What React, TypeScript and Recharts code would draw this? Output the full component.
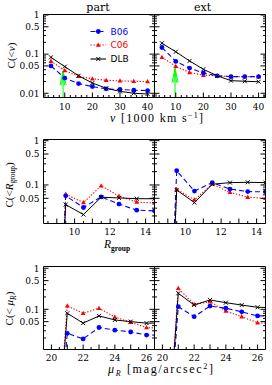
import React from 'react';
import { LineChart, Line, XAxis, YAxis, ReferenceLine } from 'recharts';

// ---------- data ----------
const vBins = [5, 10, 15, 20, 25, 30, 35, 40];
const partB06v = [0.050, 0.0245, 0.0177, 0.0148, 0.013, 0.0125, 0.012, 0.0117];
const partC06v = [0.066, 0.038, 0.027, 0.0235, 0.0215, 0.0207, 0.0203, 0.0199];
const partDLBv = [0.083, 0.048, 0.028, 0.0183, 0.0134, 0.0112, 0.0100, 0.0096];
const extB06v = [0.148, 0.065, 0.044, 0.033, 0.028, 0.0267, 0.0267, 0.0267];
const extC06v = [0.083, 0.049, 0.034, 0.029, 0.028, 0.0265, 0.0265, 0.0265];
const extDLBv = [0.19, 0.115, 0.067, 0.041, 0.028, 0.021, 0.0203, 0.0197];

// empty bins (C = 0) sit far below the log axis
const EMPTY_R = 1e-10;
const EMPTY_MU = 1e-6;

const rBins = [8.5, 9.5, 10.5, 11.5, 12.5, 13.5, 14.5];
const partB06r = [EMPTY_R, 0.057, 0.031, 0.054, 0.037, 0.027, 0.026];
const partC06r = [EMPTY_R, 0.062, 0.040, 0.096, 0.056, 0.041, 0.039];
const partDLBr = [EMPTY_R, 0.036, 0.0215, 0.053, 0.051, 0.049, 0.049];
const extB06r = [EMPTY_R, 0.21, 0.073, 0.113, 0.081, 0.071, 0.070];
const extC06r = [EMPTY_R, 0.080, 0.046, 0.105, 0.068, 0.053, 0.050];
const extDLBr = [EMPTY_R, 0.077, 0.040, 0.104, 0.113, 0.115, 0.113];

const muBins = [20, 21, 22, 23, 24, 25, 26, 27];
const partB06m = [EMPTY_MU, 0.026, 0.019, 0.036, 0.031, 0.028, 0.0235, 0.0235];
const partC06m = [EMPTY_MU, 0.122, 0.080, 0.106, 0.065, 0.048, 0.036, 0.034];
const partDLBm = [EMPTY_MU, 0.080, 0.046, 0.069, 0.055, 0.050, 0.046, 0.046];
const extB06m = [EMPTY_MU, 0.116, 0.066, 0.12, 0.106, 0.087, 0.069, 0.069];
const extC06m = [EMPTY_MU, 0.325, 0.132, 0.153, 0.091, 0.066, 0.047, 0.045];
const extDLBm = [EMPTY_MU, 0.246, 0.127, 0.169, 0.145, 0.127, 0.112, 0.110];

// arrows (x position, tip value)
const arrowPart = { x: 9.4, tip: 0.037 };
const arrowExt = { x: 9.75, tip: 0.043 };

// ticks
const vTicks = [4, 6, 8, 10, 12, 14, 16, 18, 20, 22, 24, 26, 28, 30, 32, 34, 36, 38, 40, 42];
const vMajors = [10, 20, 30, 40];
const rTicks = [8.5, 9, 9.5, 10, 10.5, 11, 11.5, 12, 12.5, 13, 13.5, 14, 14.5];
const rMajors = [9, 10, 11, 12, 13, 14];
const rLabels = [10, 12, 14];
const muTicks = [20, 20.5, 21, 21.5, 22, 22.5, 23, 23.5, 24, 24.5, 25, 25.5, 26];
const muMajors = [20, 21, 22, 23, 24, 25, 26];
const muLabels = [20, 22, 24, 26];
const yTicksTop = [0.008, 0.009, 0.01, 0.02, 0.03, 0.04, 0.05, 0.06, 0.07, 0.08, 0.09, 0.1, 0.2, 0.3, 0.4, 0.5, 0.6, 0.7, 0.8, 0.9, 1];
const yTicksLow = [0.02, 0.03, 0.04, 0.05, 0.06, 0.07, 0.08, 0.09, 0.1, 0.2, 0.3, 0.4, 0.5, 0.6, 0.7, 0.8, 0.9, 1];
const yMajors = [0.01, 0.05, 0.1, 0.5, 1];
const yLabelsTop = [0.01, 0.05, 0.1, 0.5, 1];
const yLabelsLow = [0.05, 0.1, 0.5, 1];

const legendNames = ['B06', 'C06', 'DLB'];

// ---------- styles ----------
const BLUE = '#0000ff';
const RED = '#ff0000';
const BLACK = '#000000';
const GREEN = '#00ff00';
const TICKFONT = '"DejaVu Serif", serif';
const LABELFONT = '"Liberation Serif", "Times New Roman", serif';
const SANS = '"DejaVu Sans", sans-serif';

type Pt = { x: number; y: number };
const zip = (xs: number[], ys: number[]): Pt[] => xs.map((x, i) => ({ x, y: ys[i] }));
const has = (arr: number[] | null, v: number) => !!arr && arr.some((m) => Math.abs(m - v) < 1e-9);

const BlueDot = (p: any) =>
  p.cx == null || p.cy == null || !isFinite(p.cy) ? (
    <g key={`b${p.index}`} />
  ) : (
    <circle key={`b${p.index}`} cx={p.cx} cy={p.cy} r={2.4} fill={BLUE} stroke="none" />
  );
const RedDot = (p: any) =>
  p.cx == null || p.cy == null || !isFinite(p.cy) ? (
    <g key={`r${p.index}`} />
  ) : (
    <polygon
      key={`r${p.index}`}
      points={`${p.cx},${p.cy - 2.6} ${p.cx - 2.4},${p.cy + 1.7} ${p.cx + 2.4},${p.cy + 1.7}`}
      fill={RED}
      stroke="none"
    />
  );
const CrossDot = (p: any) =>
  p.cx == null || p.cy == null || !isFinite(p.cy) ? (
    <g key={`k${p.index}`} />
  ) : (
    <path
      key={`k${p.index}`}
      d={`M${p.cx - 2},${p.cy - 2}L${p.cx + 2},${p.cy + 2}M${p.cx - 2},${p.cy + 2}L${p.cx + 2},${p.cy - 2}`}
      stroke={BLACK}
      strokeWidth={1}
      fill="none"
    />
  );

function makeTick(side: string, majors: number[], labels: number[] | null, labelDy = 12) {
  return (props: any) => {
    const { x, y, payload } = props;
    const v = payload.value;
    const len = has(majors, v) ? 5 : 2.5;
    const lab = has(labels, v);
    const txt = String(v);
    if (side === 'bottom') {
      return (
        <g>
          <line x1={x} y1={y} x2={x} y2={y - len} stroke={BLACK} strokeWidth={1} />
          {lab && (
            <text x={x} y={y + labelDy} textAnchor="middle" fontFamily={TICKFONT} fontSize={9} fill={BLACK}>
              {txt}
            </text>
          )}
        </g>
      );
    }
    if (side === 'top') {
      return <line x1={x} y1={y} x2={x} y2={y + len} stroke={BLACK} strokeWidth={1} />;
    }
    if (side === 'left') {
      return (
        <g>
          <line x1={x} y1={y} x2={x + len} y2={y} stroke={BLACK} strokeWidth={1} />
          {lab && (
            <text x={x - 4} y={y + 3.3} textAnchor="end" fontFamily={TICKFONT} fontSize={9} fill={BLACK}>
              {txt}
            </text>
          )}
        </g>
      );
    }
    return <line x1={x} y1={y} x2={x - len} y2={y} stroke={BLACK} strokeWidth={1} />;
  };
}

type Series = { data: Pt[]; kind: 'B06' | 'C06' | 'DLB' };

type PanelProps = {
  left: number;
  top: number;
  width: number;
  height: number;
  margin: { top: number; right: number; bottom: number; left: number };
  labelDy: number;
  xDomain: [number, number];
  xTicks: number[];
  xMajors: number[];
  xLabels: number[];
  yDomain: [number, number];
  yTicks: number[];
  yLabels: number[] | null;
  series: Series[];
  arrow?: { x: number; tip: number };
};

function Panel(p: PanelProps) {
  const lineFor = (s: Series, i: number) => {
    if (s.kind === 'B06')
      return (
        <Line key={`s${i}`} xAxisId="b" yAxisId="l" data={s.data} dataKey="y" type="linear"
          stroke={BLUE} strokeWidth={1.1} strokeDasharray="5 3" dot={BlueDot} activeDot={false}
          isAnimationActive={false} />
      );
    if (s.kind === 'C06')
      return (
        <Line key={`s${i}`} xAxisId="b" yAxisId="l" data={s.data} dataKey="y" type="linear"
          stroke={RED} strokeWidth={1.1} strokeDasharray="1.3 1.7" dot={RedDot} activeDot={false}
          isAnimationActive={false} />
      );
    return (
      <Line key={`s${i}`} xAxisId="b" yAxisId="l" data={s.data} dataKey="y" type="linear"
        stroke={BLACK} strokeWidth={1} dot={CrossDot} activeDot={false} isAnimationActive={false} />
    );
  };
  const arrowEls: any[] = [];
  if (p.arrow) {
    const a = p.arrow;
    const base = p.yDomain[0];
    const headLow = a.tip / 2.3;
    const seg = (k: string, x0: number, y0: number) => (
      <ReferenceLine key={k} xAxisId="b" yAxisId="l" ifOverflow="visible" stroke={GREEN} strokeWidth={1}
        segment={[{ x: x0, y: y0 }, { x: a.x, y: a.tip }]} />
    );
    arrowEls.push(
      seg('a0', a.x, base),
      seg('a1', a.x - 1.1, headLow),
      seg('a2', a.x + 1.1, headLow),
      seg('a3', a.x - 0.5, headLow),
      seg('a4', a.x + 0.5, headLow)
    );
  }
  const axisLine = { stroke: BLACK, strokeWidth: 1 };
  return (
    <div style={{ position: 'absolute', left: p.left, top: p.top }}>
      <LineChart width={p.width} height={p.height} margin={p.margin}>
        <XAxis xAxisId="b" type="number" dataKey="x" domain={p.xDomain} allowDataOverflow ticks={p.xTicks}
          interval={0} tickSize={0} tickMargin={0} height={1} tickLine={false} axisLine={axisLine}
          tick={makeTick('bottom', p.xMajors, p.xLabels, p.labelDy)} />
        <XAxis xAxisId="t" orientation="top" type="number" domain={p.xDomain} allowDataOverflow ticks={p.xTicks}
          interval={0} tickSize={0} tickMargin={0} height={1} tickLine={false} axisLine={axisLine}
          tick={makeTick('top', p.xMajors, null)} />
        <YAxis yAxisId="l" type="number" scale="log" domain={p.yDomain} allowDataOverflow ticks={p.yTicks}
          interval={0} tickSize={0} tickMargin={0} width={1} tickLine={false} axisLine={axisLine}
          tick={makeTick('left', yMajors, p.yLabels)} />
        <YAxis yAxisId="r" orientation="right" type="number" scale="log" domain={p.yDomain} allowDataOverflow
          ticks={p.yTicks} interval={0} tickSize={0} tickMargin={0} width={1} tickLine={false} axisLine={axisLine}
          tick={makeTick('right', yMajors, null)} />
        {p.series.map(lineFor)}
        {arrowEls}
      </LineChart>
    </div>
  );
}

// axes take 1px each, so margins are plot edges minus 1
const colA = { left: 0, width: 159, mLeft: 42.5, mRight: 3.5 };
const colB = { left: 150, width: 120, mLeft: 3.5, mRight: 3.5 };
const rows = [
  { top: 0, height: 118, mTop: 13.5, mBottom: 19.5, labelDy: 12 },
  { top: 125, height: 119, mTop: 13.5, mBottom: 19.5, labelDy: 11.5 },
  { top: 252, height: 118, mTop: 13.5, mBottom: 19.5, labelDy: 11 },
];
const yDomTop: [number, number] = [0.0078, 1.03];
const yDomMid: [number, number] = [0.0135, 1.064];
const yDomLow: [number, number] = [0.01047, 1.106];

function mk(col: typeof colA, row: (typeof rows)[0]) {
  return {
    left: col.left,
    top: row.top,
    width: col.width,
    height: row.height,
    labelDy: row.labelDy,
    margin: { top: row.mTop, right: col.mRight, bottom: row.mBottom, left: col.mLeft },
  };
}

function LegendRow({ y, kind, name }: { y: number; kind: string; name: string }) {
  const x0 = 90.5;
  const x1 = 106;
  const xm = 98.3;
  const color = kind === 'B06' ? BLUE : kind === 'C06' ? RED : BLACK;
  const dash = kind === 'B06' ? '5 3' : kind === 'C06' ? '1.3 1.7' : undefined;
  return (
    <g>
      <line x1={x0} y1={y} x2={x1} y2={y} stroke={color} strokeWidth={1.1} strokeDasharray={dash} />
      {kind === 'B06' && <circle cx={xm} cy={y} r={2.4} fill={BLUE} />}
      {kind === 'C06' && (
        <polygon points={`${xm},${y - 2.6} ${xm - 2.4},${y + 1.7} ${xm + 2.4},${y + 1.7}`} fill={RED} />
      )}
      {kind === 'DLB' && (
        <path d={`M${xm - 2},${y - 2}L${xm + 2},${y + 2}M${xm - 2},${y + 2}L${xm + 2},${y - 2}`} stroke={BLACK} />
      )}
      <text x={110.5} y={y + 3.3} fontFamily={SANS} fontSize={9} fill={color}>
        {name}
      </text>
    </g>
  );
}

export default function App() {
  return (
    <div style={{ position: 'absolute', left: 0, top: 0, width: 272, height: 385, background: '#fff' }}>
      <Panel {...mk(colA, rows[0])} xDomain={[2.3, 42.5]} xTicks={vTicks} xMajors={vMajors} xLabels={vMajors}
        yDomain={yDomTop} yTicks={yTicksTop} yLabels={yLabelsTop} arrow={arrowPart}
        series={[
          { kind: 'C06', data: zip(vBins, partC06v) },
          { kind: 'B06', data: zip(vBins, partB06v) },
          { kind: 'DLB', data: zip(vBins, partDLBv) },
        ]} />
      <Panel {...mk(colB, rows[0])} xDomain={[2.3, 42.5]} xTicks={vTicks} xMajors={vMajors} xLabels={vMajors}
        yDomain={yDomTop} yTicks={yTicksTop} yLabels={null} arrow={arrowExt}
        series={[
          { kind: 'C06', data: zip(vBins, extC06v) },
          { kind: 'B06', data: zip(vBins, extB06v) },
          { kind: 'DLB', data: zip(vBins, extDLBv) },
        ]} />
      <Panel {...mk(colA, rows[1])} xDomain={[8.25, 14.5]} xTicks={rTicks} xMajors={rMajors} xLabels={rLabels}
        yDomain={yDomMid} yTicks={yTicksLow} yLabels={yLabelsLow}
        series={[
          { kind: 'C06', data: zip(rBins, partC06r) },
          { kind: 'B06', data: zip(rBins, partB06r) },
          { kind: 'DLB', data: zip(rBins, partDLBr) },
        ]} />
      <Panel {...mk(colB, rows[1])} xDomain={[8.25, 14.5]} xTicks={rTicks} xMajors={rMajors} xLabels={rLabels}
        yDomain={yDomMid} yTicks={yTicksLow} yLabels={null}
        series={[
          { kind: 'C06', data: zip(rBins, extC06r) },
          { kind: 'B06', data: zip(rBins, extB06r) },
          { kind: 'DLB', data: zip(rBins, extDLBr) },
        ]} />
      <Panel {...mk(colA, rows[2])} xDomain={[19.5, 26.5]} xTicks={muTicks} xMajors={muMajors} xLabels={muLabels}
        yDomain={yDomLow} yTicks={yTicksLow} yLabels={yLabelsLow}
        series={[
          { kind: 'C06', data: zip(muBins, partC06m) },
          { kind: 'B06', data: zip(muBins, partB06m) },
          { kind: 'DLB', data: zip(muBins, partDLBm) },
        ]} />
      <Panel {...mk(colB, rows[2])} xDomain={[19.5, 26.5]} xTicks={muTicks} xMajors={muMajors} xLabels={muLabels}
        yDomain={yDomLow} yTicks={yTicksLow} yLabels={null}
        series={[
          { kind: 'C06', data: zip(muBins, extC06m) },
          { kind: 'B06', data: zip(muBins, extB06m) },
          { kind: 'DLB', data: zip(muBins, extDLBm) },
        ]} />

      <svg width={272} height={385} style={{ position: 'absolute', left: 0, top: 0, pointerEvents: 'none' }}>
        <text x={98} y={10.5} textAnchor="middle" fontFamily={TICKFONT} fontSize={11} fill={BLACK}>part</text>
        <text x={202.5} y={10.5} textAnchor="middle" fontFamily={TICKFONT} fontSize={11} fill={BLACK}>ext</text>

        <LegendRow y={31.5} kind="B06" name={legendNames[0]} />
        <LegendRow y={45} kind="C06" name={legendNames[1]} />
        <LegendRow y={59} kind="DLB" name={legendNames[2]} />

        <text transform="rotate(-90 15 55.5)" x={15} y={55.5} textAnchor="middle" fontFamily={LABELFONT} fontSize={11}>
          {'C(<'}<tspan fontStyle="italic">v</tspan>{')'}
        </text>
        <text transform="rotate(-90 12.5 185)" x={12.5} y={185} textAnchor="middle" fontFamily={LABELFONT} fontSize={11}>
          {'C(<'}<tspan fontStyle="italic">R</tspan>
          <tspan fontSize={7.5} dy={2.5}>group</tspan>
          <tspan dy={-2.5}>{')'}</tspan>
        </text>
        <text transform="rotate(-90 13 308.5)" x={13} y={308.5} textAnchor="middle" fontFamily={LABELFONT} fontSize={11}>
          {'C(< '}<tspan fontStyle="italic">μ</tspan>
          <tspan fontStyle="italic" fontSize={7.5} dy={2.5}>R</tspan>
          <tspan dy={-2.5}>{')'}</tspan>
        </text>

        <text x={156.5} y={122} textAnchor="middle" fontFamily={LABELFONT} fontSize={12} textLength={93} lengthAdjust="spacing">
          <tspan fontStyle="italic">v</tspan>
          {' [1000 km s'}
          <tspan fontSize={8} dy={-4}>−1</tspan>
          <tspan dy={4}>]</tspan>
        </text>
        <text x={104} y={248} fontFamily={LABELFONT} fontSize={11.5}>
          <tspan fontStyle="italic">R</tspan>
          <tspan fontSize={7.5} fontWeight="bold" dy={3}>group</tspan>
        </text>
        <text x={160.5} y={373} textAnchor="middle" fontFamily={LABELFONT} fontSize={12} textLength={105} lengthAdjust="spacing">
          <tspan fontStyle="italic">μ</tspan>
          <tspan fontStyle="italic" fontSize={8} dy={2.5}>R</tspan>
          <tspan dy={-2.5}>{' [mag/arcsec'}</tspan>
          <tspan fontSize={8} dy={-4}>2</tspan>
          <tspan dy={4}>]</tspan>
        </text>
      </svg>
    </div>
  );
}
